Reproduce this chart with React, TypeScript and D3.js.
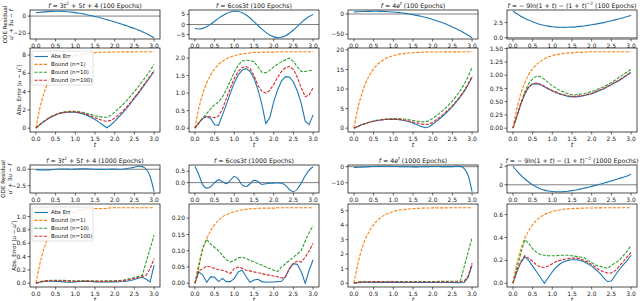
import * as d3 from 'd3';

const FONT = "'DejaVu Sans', sans-serif";
const BLUE = '#1f77b4';
const ORANGE = '#ff7f0e';
const GREEN = '#2ca02c';
const RED = '#d62728';

// sample points shared by every series
const T = [0, 0.1, 0.2, 0.3, 0.4, 0.5, 0.6, 0.7, 0.8, 0.9, 1.0, 1.1, 1.2, 1.3, 1.4, 1.5, 1.6, 1.7, 1.8, 1.9, 2.0,
  2.1, 2.2, 2.3, 2.4, 2.5, 2.6, 2.7, 2.8, 2.9, 3.0];

// ---- 100 epochs ----
const resPoly100 = [4.0, 4.5, 4.9, 5.2, 5.4, 5.5, 5.5, 5.3, 5.0, 4.6, 4.0, 3.3, 2.5, 1.6, 0.6, -0.5, -1.6, -2.8, -4.1, -5.4, -6.8, -8.2, -9.7, -11.2, -12.8, -14.5, -16.2, -18.0, -20.1, -22.4, -25.0];
const errPoly100 = [0, 0.38, 0.72, 1.0, 1.25, 1.45, 1.6, 1.7, 1.75, 1.76, 1.74, 1.67, 1.56, 1.4, 1.2, 0.95, 0.66, 0.35, 0.05, 0.35, 0.75, 1.2, 1.65, 2.15, 2.7, 3.25, 3.8, 4.4, 5.0, 5.6, 6.2];
const b1Poly100 = [0, 2.16, 3.77, 4.95, 5.83, 6.49, 6.97, 7.33, 7.59, 7.79, 7.93, 8.04, 8.12, 8.18, 8.22, 8.26, 8.28, 8.30, 8.31, 8.32, 8.33, 8.33, 8.34, 8.34, 8.34, 8.35, 8.35, 8.35, 8.35, 8.35, 8.35];
const b10Poly100 = [0, 0.4, 0.75, 1.05, 1.3, 1.5, 1.65, 1.76, 1.83, 1.86, 1.85, 1.8, 1.72, 1.6, 1.48, 1.36, 1.27, 1.2, 1.2, 1.4, 1.75, 2.15, 2.55, 3.0, 3.5, 4.0, 4.55, 5.1, 5.7, 6.3, 7.0];
const b100Poly100 = [0, 0.39, 0.73, 1.02, 1.27, 1.47, 1.62, 1.72, 1.78, 1.8, 1.78, 1.73, 1.63, 1.5, 1.33, 1.15, 0.97, 0.83, 0.75, 0.85, 1.1, 1.45, 1.85, 2.3, 2.8, 3.35, 3.9, 4.5, 5.1, 5.7, 6.3];

const resCos100 = [-2.0, -2.2, -1.9, -1.0, 0.2, 1.6, 3.0, 4.3, 5.4, 6.2, 6.5, 6.4, 5.8, 4.7, 3.2, 1.4, -0.5, -2.3, -3.9, -5.2, -6.1, -6.5, -6.3, -5.6, -4.3, -2.7, -0.9, 0.9, 2.6, 3.9, 4.9];
const errCos100 = [0, 0.15, 0.28, 0.33, 0.28, 0.1, 0.08, 0.38, 0.68, 1.0, 1.3, 1.52, 1.66, 1.7, 1.62, 1.42, 1.1, 0.68, 0.13, 0.3, 0.75, 1.1, 1.35, 1.47, 1.46, 1.32, 1.06, 0.7, 0.2, 0.1, 0.38];
const b1Cos100 = [0, 0.57, 0.98, 1.29, 1.52, 1.69, 1.82, 1.91, 1.98, 2.03, 2.07, 2.10, 2.12, 2.14, 2.15, 2.16, 2.16, 2.17, 2.17, 2.17, 2.17, 2.18, 2.18, 2.18, 2.18, 2.18, 2.18, 2.18, 2.18, 2.18, 2.18];
const b10Cos100 = [0, 0.15, 0.3, 0.42, 0.55, 0.67, 0.75, 0.9, 1.1, 1.35, 1.6, 1.8, 1.92, 1.94, 1.93, 1.9, 1.75, 1.6, 1.58, 1.65, 1.75, 1.83, 1.9, 1.95, 2.0, 1.9, 1.75, 1.62, 1.62, 1.64, 1.66];
const b100Cos100 = [0, 0.15, 0.28, 0.34, 0.32, 0.3, 0.35, 0.55, 0.85, 1.15, 1.42, 1.62, 1.73, 1.76, 1.7, 1.5, 1.22, 1.05, 1.0, 1.08, 1.25, 1.45, 1.62, 1.73, 1.76, 1.68, 1.45, 1.15, 0.9, 0.95, 1.15];

const resExp100 = [5.0, 5.5, 6.0, 6.3, 6.5, 6.6, 6.6, 6.4, 6.1, 5.6, 4.9, 4.0, 2.9, 1.6, 0.1, -1.6, -3.5, -5.6, -8.0, -10.6, -13.5, -16.6, -20.0, -23.7, -27.7, -32.0, -36.6, -41.6, -46.9, -52.5, -58.5];
const errExp100 = [0, 0.45, 0.85, 1.2, 1.5, 1.75, 1.95, 2.1, 2.2, 2.25, 2.25, 2.2, 2.1, 1.9, 1.65, 1.3, 0.9, 0.5, 0.1, 0.3, 1.0, 1.8, 2.6, 3.5, 4.5, 5.5, 6.7, 8.0, 9.4, 11.1, 13.0];
const b1Exp100 = [0, 5.05, 8.80, 11.57, 13.63, 15.15, 16.28, 17.11, 17.73, 18.19, 18.53, 18.78, 18.97, 19.11, 19.21, 19.28, 19.34, 19.38, 19.41, 19.44, 19.45, 19.46, 19.47, 19.48, 19.49, 19.49, 19.49, 19.5, 19.5, 19.5, 19.5];
const b10Exp100 = [0, 0.47, 0.88, 1.24, 1.56, 1.83, 2.05, 2.22, 2.34, 2.42, 2.45, 2.45, 2.4, 2.3, 2.15, 1.98, 1.8, 1.65, 1.6, 1.9, 2.5, 3.2, 4.0, 4.9, 5.9, 7.0, 8.2, 9.6, 11.2, 13.2, 15.5];
const b100Exp100 = [0, 0.46, 0.87, 1.22, 1.53, 1.78, 1.98, 2.14, 2.24, 2.3, 2.31, 2.27, 2.18, 2.02, 1.82, 1.6, 1.35, 1.1, 0.9, 1.0, 1.5, 2.2, 2.95, 3.8, 4.75, 5.75, 6.9, 8.2, 9.6, 11.3, 13.3];

const resLog100 = [4.35, 3.95, 3.55, 3.2, 2.9, 2.62, 2.38, 2.18, 2.02, 1.9, 1.8, 1.74, 1.71, 1.7, 1.71, 1.74, 1.79, 1.86, 1.94, 2.03, 2.13, 2.24, 2.36, 2.49, 2.63, 2.78, 2.94, 3.11, 3.29, 3.48, 3.68];
const errLog100 = [0, 0.22, 0.45, 0.64, 0.77, 0.83, 0.84, 0.82, 0.78, 0.74, 0.7, 0.67, 0.64, 0.62, 0.6, 0.59, 0.59, 0.6, 0.61, 0.63, 0.65, 0.68, 0.71, 0.74, 0.78, 0.82, 0.86, 0.9, 0.95, 1.0, 1.05];
const b1Log100 = [0, 0.37, 0.65, 0.85, 1.01, 1.12, 1.20, 1.26, 1.31, 1.34, 1.37, 1.39, 1.40, 1.41, 1.42, 1.42, 1.43, 1.43, 1.43, 1.44, 1.44, 1.44, 1.44, 1.44, 1.44, 1.44, 1.44, 1.44, 1.44, 1.44, 1.44];
const b10Log100 = [0, 0.23, 0.47, 0.68, 0.84, 0.93, 0.98, 0.97, 0.92, 0.86, 0.8, 0.75, 0.71, 0.68, 0.65, 0.63, 0.63, 0.64, 0.65, 0.67, 0.69, 0.72, 0.75, 0.78, 0.82, 0.86, 0.91, 0.96, 1.01, 1.06, 1.11];
const b100Log100 = [0, 0.23, 0.46, 0.65, 0.78, 0.84, 0.85, 0.83, 0.79, 0.75, 0.71, 0.68, 0.65, 0.63, 0.61, 0.6, 0.6, 0.61, 0.62, 0.64, 0.66, 0.69, 0.72, 0.75, 0.79, 0.83, 0.87, 0.91, 0.96, 1.01, 1.06];

// ---- 1000 epochs ----
const resPoly1000 = [-0.05, -0.1, -0.12, -0.1, -0.05, 0.0, 0.03, 0.04, 0.02, 0.0, 0.02, 0.05, 0.07, 0.06, 0.03, 0.0, -0.02, -0.02, 0.0, 0.02, 0.02, 0.0, 0.0, 0.08, 0.18, 0.3, 0.45, 0.4, 0.0, -1.1, -3.4];
const errPoly1000 = [0, 0.015, 0.025, 0.03, 0.03, 0.028, 0.025, 0.02, 0.015, 0.015, 0.02, 0.025, 0.028, 0.028, 0.025, 0.02, 0.018, 0.018, 0.02, 0.02, 0.02, 0.022, 0.025, 0.03, 0.04, 0.055, 0.075, 0.09, 0.06, 0.02, 0.27];
const b1Poly1000 = [0, 0.29, 0.51, 0.67, 0.79, 0.88, 0.94, 0.99, 1.03, 1.05, 1.07, 1.09, 1.10, 1.11, 1.11, 1.12, 1.12, 1.12, 1.12, 1.13, 1.13, 1.13, 1.13, 1.13, 1.13, 1.13, 1.13, 1.13, 1.13, 1.13, 1.13];
const b10Poly1000 = [0, 0.025, 0.035, 0.04, 0.045, 0.045, 0.045, 0.043, 0.04, 0.038, 0.037, 0.037, 0.038, 0.038, 0.037, 0.035, 0.034, 0.034, 0.035, 0.036, 0.037, 0.04, 0.045, 0.055, 0.07, 0.085, 0.1, 0.12, 0.32, 0.52, 0.72];
const b100Poly1000 = [0, 0.02, 0.03, 0.035, 0.038, 0.038, 0.037, 0.035, 0.032, 0.03, 0.03, 0.03, 0.031, 0.031, 0.03, 0.029, 0.028, 0.028, 0.029, 0.03, 0.031, 0.033, 0.037, 0.045, 0.06, 0.075, 0.09, 0.1, 0.12, 0.22, 0.37];

const resCos1000 = [0.72, 0.35, -0.1, -0.24, -0.18, 0.0, 0.12, 0.05, -0.05, 0.1, 0.27, 0.15, -0.1, -0.17, -0.05, 0.1, 0.05, -0.08, -0.05, -0.02, -0.02, -0.01, -0.03, -0.12, -0.3, -0.4, -0.28, -0.02, 0.3, 0.55, 0.7];
const errCos1000 = [0, 0.035, 0.025, 0.003, 0.02, 0.018, 0.005, 0.015, 0.005, 0.005, 0.015, 0.035, 0.04, 0.02, 0.003, 0.01, 0.012, 0.005, 0.003, 0.004, 0.004, 0.005, 0.006, 0.02, 0.045, 0.06, 0.058, 0.035, 0.0, 0.04, 0.072];
const b1Cos1000 = [0, 0.06, 0.105, 0.138, 0.162, 0.18, 0.194, 0.204, 0.211, 0.216, 0.22, 0.223, 0.226, 0.227, 0.229, 0.229, 0.23, 0.231, 0.231, 0.231, 0.231, 0.232, 0.232, 0.232, 0.232, 0.232, 0.232, 0.232, 0.232, 0.232, 0.232];
const b10Cos1000 = [0, 0.05, 0.11, 0.135, 0.12, 0.11, 0.1, 0.085, 0.072, 0.065, 0.07, 0.078, 0.08, 0.076, 0.07, 0.066, 0.06, 0.055, 0.05, 0.045, 0.04, 0.036, 0.05, 0.06, 0.07, 0.08, 0.09, 0.1, 0.13, 0.155, 0.177];
const b100Cos1000 = [0, 0.038, 0.045, 0.053, 0.05, 0.045, 0.042, 0.04, 0.035, 0.03, 0.045, 0.05, 0.046, 0.04, 0.038, 0.035, 0.032, 0.03, 0.026, 0.025, 0.022, 0.02, 0.016, 0.02, 0.045, 0.062, 0.068, 0.065, 0.08, 0.1, 0.122];

const resExp1000 = [-0.5, -0.4, -0.3, -0.15, 0.0, 0.1, 0.2, 0.25, 0.25, 0.2, 0.15, 0.1, 0.05, 0.0, -0.05, -0.1, -0.1, -0.05, 0.0, 0.05, 0.1, 0.1, 0.05, 0.0, 0.0, 0.05, 0.2, 0.2, -1.2, -5.5, -15.6];
const errExp1000 = [0, 0.04, 0.06, 0.07, 0.07, 0.06, 0.06, 0.06, 0.06, 0.06, 0.06, 0.06, 0.06, 0.055, 0.05, 0.05, 0.05, 0.05, 0.05, 0.05, 0.05, 0.05, 0.05, 0.05, 0.05, 0.045, 0.04, 0.03, 0.05, 0.4, 1.25];
const b1Exp1000 = [0, 1.35, 2.35, 3.09, 3.63, 4.04, 4.34, 4.56, 4.73, 4.85, 4.94, 5.01, 5.06, 5.09, 5.12, 5.14, 5.16, 5.17, 5.18, 5.18, 5.19, 5.19, 5.19, 5.19, 5.2, 5.2, 5.2, 5.2, 5.2, 5.2, 5.2];
const b10Exp1000 = [0, 0.08, 0.1, 0.11, 0.12, 0.12, 0.12, 0.12, 0.12, 0.12, 0.12, 0.12, 0.12, 0.12, 0.12, 0.12, 0.12, 0.12, 0.12, 0.12, 0.12, 0.12, 0.13, 0.13, 0.13, 0.14, 0.14, 0.15, 1.15, 2.15, 3.15];
const b100Exp1000 = [0, 0.06, 0.08, 0.09, 0.09, 0.09, 0.09, 0.09, 0.09, 0.09, 0.09, 0.09, 0.08, 0.08, 0.08, 0.08, 0.08, 0.08, 0.08, 0.08, 0.08, 0.08, 0.08, 0.08, 0.08, 0.08, 0.08, 0.09, 0.15, 0.5, 1.38];

const resLog1000 = [2.0, 1.5, 1.05, 0.65, 0.3, 0.0, -0.25, -0.45, -0.58, -0.67, -0.72, -0.75, -0.75, -0.73, -0.69, -0.63, -0.56, -0.47, -0.38, -0.28, -0.17, -0.06, 0.05, 0.17, 0.29, 0.42, 0.55, 0.68, 0.82, 0.96, 1.15];
const errLog1000 = [0, 0.1, 0.18, 0.23, 0.2, 0.15, 0.1, 0.05, 0.0, 0.05, 0.1, 0.14, 0.17, 0.19, 0.2, 0.205, 0.205, 0.2, 0.19, 0.17, 0.15, 0.12, 0.09, 0.05, 0.015, 0.02, 0.07, 0.12, 0.16, 0.2, 0.245];
const b1Log1000 = [0, 0.171, 0.298, 0.392, 0.461, 0.513, 0.551, 0.579, 0.6, 0.616, 0.627, 0.636, 0.642, 0.647, 0.65, 0.653, 0.655, 0.656, 0.657, 0.658, 0.658, 0.659, 0.659, 0.66, 0.66, 0.66, 0.66, 0.66, 0.66, 0.66, 0.66];
const b10Log1000 = [0, 0.13, 0.26, 0.38, 0.35, 0.3, 0.27, 0.25, 0.245, 0.24, 0.24, 0.24, 0.245, 0.245, 0.245, 0.24, 0.235, 0.23, 0.225, 0.2, 0.18, 0.16, 0.15, 0.14, 0.13, 0.155, 0.18, 0.2, 0.24, 0.28, 0.33];
const b100Log1000 = [0, 0.11, 0.19, 0.24, 0.22, 0.19, 0.16, 0.14, 0.14, 0.15, 0.17, 0.19, 0.2, 0.21, 0.215, 0.22, 0.22, 0.215, 0.2, 0.185, 0.165, 0.14, 0.115, 0.1, 0.09, 0.09, 0.11, 0.15, 0.19, 0.23, 0.27];

// tick labels
const xTickLabels = ['0.0', '0.5', '1.0', '1.5', '2.0', '2.5', '3.0'];
const resTickLabels = [
  ['−20', '0'], ['−5', '0', '5'], ['−50', '0'], ['0.0', '2.5'],
  ['−2.5', '0.0'], ['0.0', '0.5'], ['−10', '0'], ['0', '2'],
];
const errTickLabels = [
  ['0', '2', '4', '6', '8'], ['0.0', '0.5', '1.0', '1.5', '2.0'], ['0', '5', '10', '15', '20'],
  ['0.00', '0.25', '0.50', '0.75', '1.00', '1.25', '1.50'],
  ['0.0', '0.2', '0.4', '0.6', '0.8', '1.0'], ['0.00', '0.05', '0.10', '0.15', '0.20'],
  ['0', '1', '2', '3', '4', '5'], ['0.0', '0.2', '0.4', '0.6'],
];
const epochs = ['100', '1000'];
const legendLabels = ['Abs Err', 'Bound (n=1)', 'Bound (n=10)', 'Bound (n=100)'];

// title pieces: [text, flags] i = italic, s = superscript
type Seg = [string, string?];
const titles: Seg[][] = [
  [['f', 'i'], [' = 3'], ['t', 'i'], ['2', 's'], [' + 5'], ['t', 'i'], [' + 4']],
  [['f', 'i'], [' = 6cos3'], ['t', 'i']],
  [['f', 'i'], [' = 4'], ['e', 'i'], ['t', 'is']],
  [['f', 'i'], [' = − 9ln(1 + '], ['t', 'i'], [') − (1 + '], ['t', 'i'], [')'], ['−2', 's']],
];

const panels = [
  { res: resPoly100, err: errPoly100, b1: b1Poly100, b10: b10Poly100, b100: b100Poly100 },
  { res: resCos100, err: errCos100, b1: b1Cos100, b10: b10Cos100, b100: b100Cos100 },
  { res: resExp100, err: errExp100, b1: b1Exp100, b10: b10Exp100, b100: b100Exp100 },
  { res: resLog100, err: errLog100, b1: b1Log100, b10: b10Log100, b100: b100Log100 },
  { res: resPoly1000, err: errPoly1000, b1: b1Poly1000, b10: b10Poly1000, b100: b100Poly1000 },
  { res: resCos1000, err: errCos1000, b1: b1Cos1000, b10: b10Cos1000, b100: b100Cos1000 },
  { res: resExp1000, err: errExp1000, b1: b1Exp1000, b10: b10Exp1000, b100: b100Exp1000 },
  { res: resLog1000, err: errLog1000, b1: b1Log1000, b10: b10Log1000, b100: b100Log1000 },
];

const colX = [30, 189, 348, 507];
const axW = 130;
const rows = [
  { resTop: 10, resBot: 39, errTop: 48, errBot: 132, labRes: [6.5, 13], labErr: 21 },
  { resTop: 165, resBot: 193, errTop: 204, errBot: 287, labRes: [5, 11.5], labErr: 16 },
];

const num = (s: string) => parseFloat(s.replace('−', '-'));

// matplotlib style autoscale: 5% margin on the data range
function padded(vals: number[]): [number, number] {
  const [lo, hi] = d3.extent(vals) as [number, number];
  const m = (hi - lo) * 0.05;
  return [lo - m, hi + m];
}

function segs(parts: Seg[], supSize: number) {
  let up = false;
  return parts.map(([s, f = ''], i) => {
    const sup = f.includes('s');
    let dy: number | undefined;
    if (sup && !up) { dy = -2.4; up = true; }
    else if (!sup && up) { dy = 2.4; up = false; }
    return (
      <tspan key={i} dy={dy} fontStyle={f.includes('i') ? 'italic' : undefined} fontSize={sup ? supSize : undefined}>{s}</tspan>
    );
  });
}

function Frame({ x, y, top, bot, labels }: any) {
  const x0 = x.range()[0], x1 = x.range()[1];
  return (
    <g>
      <rect x={x0} y={top} width={x1 - x0} height={bot - top} fill="none" stroke="#000" strokeWidth={0.7} />
      {xTickLabels.map(l => {
        const xt = x(num(l));
        return (
          <g key={l}>
            <line x1={xt} x2={xt} y1={bot} y2={bot + 2.5} stroke="#000" strokeWidth={0.6} />
            <text x={xt} y={bot + 8.5} fontSize={6} textAnchor="middle" fill="#222">{l}</text>
          </g>
        );
      })}
      {labels.map((l: string) => {
        const yt = y(num(l));
        return (
          <g key={l}>
            <line x1={x0 - 2.5} x2={x0} y1={yt} y2={yt} stroke="#000" strokeWidth={0.6} />
            <text x={x0 - 4} y={yt} dy="0.35em" fontSize={6} textAnchor="end" fill="#222">{l}</text>
          </g>
        );
      })}
    </g>
  );
}

export default function App() {
  return (
    <svg width={640} height={301} style={{ position: 'absolute', left: 0, top: 0, whiteSpace: 'pre' }} fontFamily={FONT}>
      <rect width={640} height={301} fill="#fff" />
      {panels.map((p, k) => {
        const r = Math.floor(k / 4), col = k % 4;
        const row = rows[r];
        const x0 = colX[col];
        const x = d3.scaleLinear().domain([-0.15, 3.15]).range([x0, x0 + axW]);
        const yR = d3.scaleLinear().domain(padded([...p.res, 0])).range([row.resBot, row.resTop]);
        const yE = d3.scaleLinear().domain(padded([...p.err, ...p.b1, ...p.b10, ...p.b100])).range([row.errBot, row.errTop]);
        const lineR = d3.line<number>().x((_, i) => x(T[i])).y(v => yR(v)).curve(d3.curveMonotoneX);
        const lineSmooth = d3.line<number>().x((_, i) => x(T[i])).y(v => yE(v)).curve(d3.curveMonotoneX);
        const lineE = d3.line<number>().x((_, i) => x(T[i])).y(v => yE(v));
        const cx = x0 + axW / 2;
        const titleSegs: Seg[] = [...titles[col], [` (${epochs[r]} Epochs)`]];
        return (
          <g key={k}>
            <text x={cx} y={row.resTop - 2.5} fontSize={6.3} textAnchor="middle" fill="#111">
              {segs(titleSegs, 4.4)}
            </text>
            {/* residual panel */}
            <line x1={x0} x2={x0 + axW} y1={yR(0)} y2={yR(0)} stroke="#808080" strokeWidth={1} />
            <path d={lineR(p.res) || ''} fill="none" stroke={BLUE} strokeWidth={1.1} />
            <Frame x={x} y={yR} top={row.resTop} bot={row.resBot} labels={resTickLabels[k]} />
            {/* error panel */}
            <path d={lineE(p.err) || ''} fill="none" stroke={BLUE} strokeWidth={1.1} />
            <path d={lineSmooth(p.b1) || ''} fill="none" stroke={ORANGE} strokeWidth={1.1} strokeDasharray="3.2,1.4" />
            <path d={lineE(p.b10) || ''} fill="none" stroke={GREEN} strokeWidth={1.1} strokeDasharray="3.2,1.4" />
            <path d={lineE(p.b100) || ''} fill="none" stroke={RED} strokeWidth={1.1} strokeDasharray="3.2,1.4" />
            <Frame x={x} y={yE} top={row.errTop} bot={row.errBot} labels={errTickLabels[k]} />
            <text x={cx} y={row.errBot + 14.5} fontSize={6.3} textAnchor="middle" fontStyle="italic" fill="#111">t</text>
            {col === 0 && (
              <g>
                <rect x={x0 + 2} y={row.errTop + 3} width={61} height={34} rx={1.5} fill="#fff" fillOpacity={0.8} stroke="#ccc" strokeWidth={0.6} />
                {legendLabels.map((l, i) => {
                  const ly = row.errTop + 8.5 + i * 7.9;
                  const c = [BLUE, ORANGE, GREEN, RED][i];
                  return (
                    <g key={l}>
                      <line x1={x0 + 4.5} x2={x0 + 18} y1={ly} y2={ly} stroke={c} strokeWidth={1.1} strokeDasharray={i ? '3.2,1.4' : undefined} />
                      <text x={x0 + 21} y={ly} dy="0.35em" fontSize={5.4} fill="#111">{l}</text>
                    </g>
                  );
                })}
                <text transform={`translate(${row.labRes[0]},${(row.resTop + row.resBot) / 2}) rotate(-90)`} fontSize={5.6} textAnchor="middle" fill="#111">ODE Residual</text>
                <text transform={`translate(${row.labRes[1]},${(row.resTop + row.resBot) / 2}) rotate(-90)`} fontSize={5.6} textAnchor="middle" fill="#111">
                  <tspan fontStyle="italic">u</tspan>′ + 3<tspan fontStyle="italic">u</tspan> − <tspan fontStyle="italic">f</tspan>
                </text>
                <text transform={`translate(${row.labErr},${(row.errTop + row.errBot) / 2}) rotate(-90)`} fontSize={5.6} textAnchor="middle" fill="#111">
                  Abs. Error |<tspan fontStyle="italic">u</tspan> − <tspan fontStyle="italic">u</tspan><tspan dy={-2} fontSize={4}>*</tspan><tspan dy={2}>|</tspan>
                </text>
              </g>
            )}
          </g>
        );
      })}
    </svg>
  );
}
